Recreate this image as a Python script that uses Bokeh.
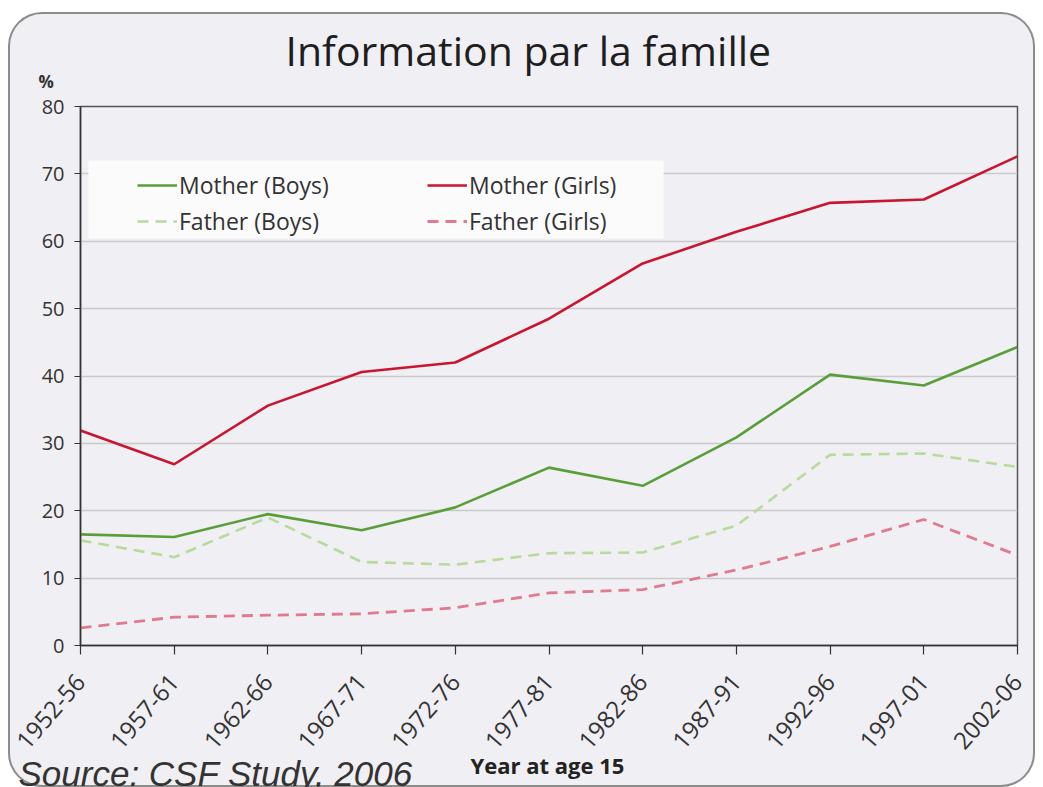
from bokeh.plotting import figure
from bokeh.models import (Range1d, FixedTicker, Legend, LegendItem, Title,
                          BoxAnnotation, InlineStyleSheet)
from bokeh.embed import file_html
from bokeh.resources import INLINE

# ---------------- data ----------------
periods = ["1952-56", "1957-61", "1962-66", "1967-71", "1972-76", "1977-81",
           "1982-86", "1987-91", "1992-96", "1997-01", "2002-06"]
mother_boys = [16.5, 16.1, 19.5, 17.1, 20.5, 26.4, 23.7, 30.9, 40.2, 38.6, 44.3]
mother_girls = [31.9, 26.9, 35.6, 40.6, 42.0, 48.5, 56.7, 61.4, 65.7, 66.2, 72.6]
father_boys = [15.6, 13.1, 19.0, 12.4, 12.0, 13.7, 13.8, 17.8, 28.3, 28.5, 26.5]
father_girls = [2.6, 4.2, 4.5, 4.7, 5.6, 7.8, 8.3, 11.2, 14.7, 18.7, 13.4]
y_ticks = [0, 10, 20, 30, 40, 50, 60, 70, 80]

title_text = "Information par la  famille"
y_unit = "%"
x_title = "Year at age 15"
source_text = "Source: CSF Study, 2006"

xs = list(range(len(periods)))

BG = "#f0eff3"
FONT = "Open Sans"

p = figure(width=1027, height=775,
           x_range=Range1d(0, len(periods) - 1), y_range=Range1d(0, 80),
           output_backend="svg", toolbar_location=None, title=None,
           min_border_left=72, min_border_right=18, min_border_top=94,
           min_border_bottom=142)
p.margin = (12, 8, 0, 8)
p.background_fill_color = BG
p.border_fill_color = None
p.outline_line_color = "#555555"
p.outline_line_width = 1.5
p.stylesheets = [InlineStyleSheet(css=":host { background: #f0eff3; border-radius: 34px; "
                                      "box-shadow: inset 0 0 0 2px #8c8c8c; }")]

# axes
p.xaxis.ticker = FixedTicker(ticks=xs)
p.xaxis.major_label_overrides = {i: lab for i, lab in zip(xs, periods)}
p.xaxis.major_label_orientation = 0.855
p.yaxis.ticker = FixedTicker(ticks=y_ticks)
for ax in (p.xaxis, p.yaxis):
    ax.axis_line_color = "#333333"
    ax.axis_line_width = 1.5
    ax.major_tick_line_color = "#333333"
    ax.major_tick_line_width = 1.2
    ax.major_tick_in = 0
    ax.minor_tick_line_color = None
    ax.major_label_text_font = FONT
    ax.major_label_text_color = "#333333"
p.yaxis.major_tick_out = 6
p.yaxis.major_label_text_font_size = "20px"
p.yaxis.major_label_standoff = 10
p.xaxis.major_tick_out = 9
p.xaxis.major_label_text_font_size = "24px"
p.xaxis.major_label_standoff = 23

p.xgrid.grid_line_color = None
p.ygrid.grid_line_color = "#c9c9cc"
p.ygrid.grid_line_width = 1.5

# lines
r_mb = p.line(xs, mother_boys, line_color="#5a9e3a", line_width=2.6)
r_mg = p.line(xs, mother_girls, line_color="#c81530", line_width=2.6)
r_fb = p.line(xs, father_boys, line_color="#b8da9c", line_width=2.6, line_dash="11 7")
r_fg = p.line(xs, father_girls, line_color="#e07a90", line_width=2.8, line_dash="11 7")

# helpers to convert reference pixel positions into data units for the legend box
def xd(px):
    return (px - 80) / (1017 - 80) * (len(periods) - 1)

def yd(py):
    return (645 - py) / (645 - 106) * 80

# legend background
p.add_layout(BoxAnnotation(left=xd(88), right=xd(663), top=yd(160), bottom=yd(238),
                           fill_color="#fbfbfc", fill_alpha=1.0, line_color=None,
                           level="underlay"))

legend = Legend(items=[LegendItem(label="Mother (Boys)", renderers=[r_mb]),
                       LegendItem(label="Father (Boys)", renderers=[r_fb]),
                       LegendItem(label="Mother (Girls)", renderers=[r_mg]),
                       LegendItem(label="Father (Girls)", renderers=[r_fg])],
                ncols=2, location=(57, 408))
legend.background_fill_alpha = 0
legend.border_line_color = None
legend.padding = 5
legend.margin = 0
legend.spacing = 4
legend.glyph_width = 40
legend.glyph_height = 20
legend.label_height = 20
legend.label_width = 244
legend.label_standoff = 2
legend.label_text_font = FONT
legend.label_text_font_size = "23px"
legend.label_text_color = "#333333"
p.add_layout(legend)

# titles (side panels, first added = closest to the frame)
p.add_layout(Title(text=y_unit, align="left", offset=-42, vertical_align="middle",
                   standoff=25, text_font=FONT, text_font_size="17px",
                   text_font_style="bold", text_color="#333333"), "above")
p.add_layout(Title(text=title_text, align="left", offset=205, vertical_align="middle",
                   standoff=-44, text_font=FONT, text_font_size="41px",
                   text_font_style="normal", text_color="#1e1e1e"), "above")
p.add_layout(Title(text=x_title, align="left", offset=390, vertical_align="middle",
                   standoff=-21, text_font=FONT, text_font_size="22px",
                   text_font_style="bold", text_color="#222222"), "below")
p.add_layout(Title(text=source_text, align="left", offset=-62, vertical_align="top",
                   standoff=-34, text_font="Liberation Sans", text_font_size="35px",
                   text_font_style="italic", text_color="#333333"), "below")

open("out.html", "w").write(file_html(p, INLINE))
